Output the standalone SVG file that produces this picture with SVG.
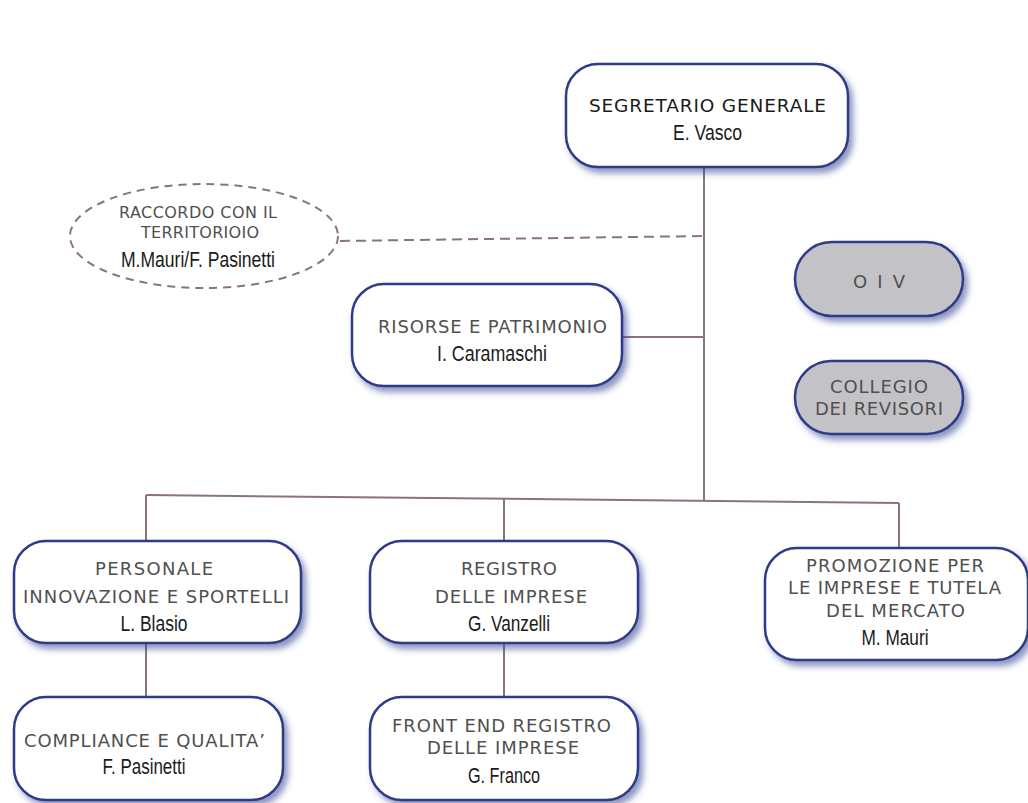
<svg xmlns="http://www.w3.org/2000/svg" width="1028" height="803" viewBox="0 0 1028 803">
<style>
.box{fill:#fff;stroke:#2f3b88;stroke-width:2.5;filter:url(#sh)}
.gray{fill:#c3c3c7;stroke:#2f3b88;stroke-width:2.5;filter:url(#sh)}
.up{font-family:"DejaVu Sans","Liberation Sans",sans-serif;font-size:18px;fill:#505050;text-anchor:middle;font-weight:400}
.sm{font-size:16px}
.nm{font-family:"Liberation Sans",Arial,sans-serif;font-size:22px;fill:#1a1a1a;text-anchor:middle}
.ttl{font-family:"DejaVu Sans","Liberation Sans",sans-serif;font-size:18.5px;fill:#1a1a1a;text-anchor:middle;font-weight:400}
.ln{stroke:#8b7282;stroke-width:2;fill:none}
</style>
<defs>
<filter id="sh" x="-20%" y="-20%" width="150%" height="160%">
<feDropShadow dx="4" dy="5" stdDeviation="3" flood-color="#33408f" flood-opacity="0.55"/>
</filter>
</defs>
<rect width="1028" height="803" fill="#fff"/>
<g id="connectors">
<line class="ln" x1="704" y1="167" x2="704" y2="500"/>
<line class="ln" x1="622" y1="337" x2="704" y2="337"/>
<line class="ln" x1="340" y1="241" x2="704" y2="236" stroke-dasharray="10,6"/>
<line class="ln" x1="146" y1="495" x2="899" y2="503"/>
<line class="ln" x1="146" y1="495" x2="146" y2="541"/>
<line class="ln" x1="504" y1="498" x2="504" y2="541"/>
<line class="ln" x1="899" y1="503" x2="899" y2="548"/>
<line class="ln" x1="146" y1="643" x2="146" y2="697"/>
<line class="ln" x1="504" y1="643" x2="504" y2="697"/>
</g>
<g id="segretario">
<rect class="box" x="566" y="64" width="282" height="103" rx="32"/>
<text class="ttl" x="707.5" y="112" textLength="237" lengthAdjust="spacing">SEGRETARIO GENERALE</text>
<text class="nm" x="707.5" y="140" textLength="69" lengthAdjust="spacingAndGlyphs">E. Vasco</text>
</g>
<g id="raccordo">
<ellipse cx="204" cy="236" rx="134" ry="52" fill="#fff" stroke="#8b7282" stroke-width="2" stroke-dasharray="8,6"/>
<text class="up sm" x="198" y="218" textLength="158" lengthAdjust="spacing">RACCORDO CON IL</text>
<text class="up sm" x="200" y="238" textLength="118" lengthAdjust="spacing">TERRITORIOIO</text>
<text class="nm" x="198" y="267" textLength="154" lengthAdjust="spacingAndGlyphs">M.Mauri/F. Pasinetti</text>
</g>
<g id="risorse">
<rect class="box" x="352" y="284" width="270" height="102" rx="32"/>
<text class="up" x="492.5" y="333" textLength="229" lengthAdjust="spacing">RISORSE E PATRIMONIO</text>
<text class="nm" x="492" y="361" textLength="110" lengthAdjust="spacingAndGlyphs">I. Caramaschi</text>
</g>
<g id="oiv">
<rect class="gray" x="795" y="242" width="168" height="74" rx="37"/>
<text class="up" x="879" y="288" textLength="52" lengthAdjust="spacing">O I V</text>
</g>
<g id="collegio">
<rect class="gray" x="795" y="361" width="168" height="73" rx="36"/>
<text class="up" x="879" y="393" textLength="98" lengthAdjust="spacing">COLLEGIO</text>
<text class="up" x="879" y="415" textLength="128" lengthAdjust="spacing">DEI REVISORI</text>
</g>
<g id="personale">
<rect class="box" x="14" y="541" width="287" height="102" rx="32"/>
<text class="up" x="154" y="575" textLength="118" lengthAdjust="spacing">PERSONALE</text>
<text class="up" x="156" y="603" textLength="266" lengthAdjust="spacing">INNOVAZIONE E SPORTELLI</text>
<text class="nm" x="154" y="631" textLength="67" lengthAdjust="spacingAndGlyphs">L. Blasio</text>
</g>
<g id="registro">
<rect class="box" x="370" y="541" width="268" height="102" rx="32"/>
<text class="up" x="509" y="575" textLength="96" lengthAdjust="spacing">REGISTRO</text>
<text class="up" x="511" y="603" textLength="152" lengthAdjust="spacing">DELLE IMPRESE</text>
<text class="nm" x="509" y="631" textLength="82" lengthAdjust="spacingAndGlyphs">G. Vanzelli</text>
</g>
<g id="promozione">
<rect class="box" x="765" y="548" width="263" height="112" rx="32"/>
<text class="up" x="895" y="572" textLength="178" lengthAdjust="spacing">PROMOZIONE PER</text>
<text class="up" x="894.5" y="594" textLength="213" lengthAdjust="spacing">LE IMPRESE E TUTELA</text>
<text class="up" x="895.5" y="617" textLength="139" lengthAdjust="spacing">DEL MERCATO</text>
<text class="nm" x="895" y="645" textLength="67" lengthAdjust="spacingAndGlyphs">M. Mauri</text>
</g>
<g id="compliance">
<rect class="box" x="14" y="697" width="269" height="103" rx="32"/>
<text class="up" x="144.5" y="747" textLength="241" lengthAdjust="spacing">COMPLIANCE E QUALITA’</text>
<text class="nm" x="144" y="774" textLength="83" lengthAdjust="spacingAndGlyphs">F. Pasinetti</text>
</g>
<g id="frontend">
<rect class="box" x="370" y="697" width="268" height="103" rx="32"/>
<text class="up" x="501.5" y="732" textLength="219" lengthAdjust="spacing">FRONT END REGISTRO</text>
<text class="up" x="503" y="754" textLength="152" lengthAdjust="spacing">DELLE IMPRESE</text>
<text class="nm" x="504" y="783" textLength="72" lengthAdjust="spacingAndGlyphs">G. Franco</text>
</g>
</svg>
